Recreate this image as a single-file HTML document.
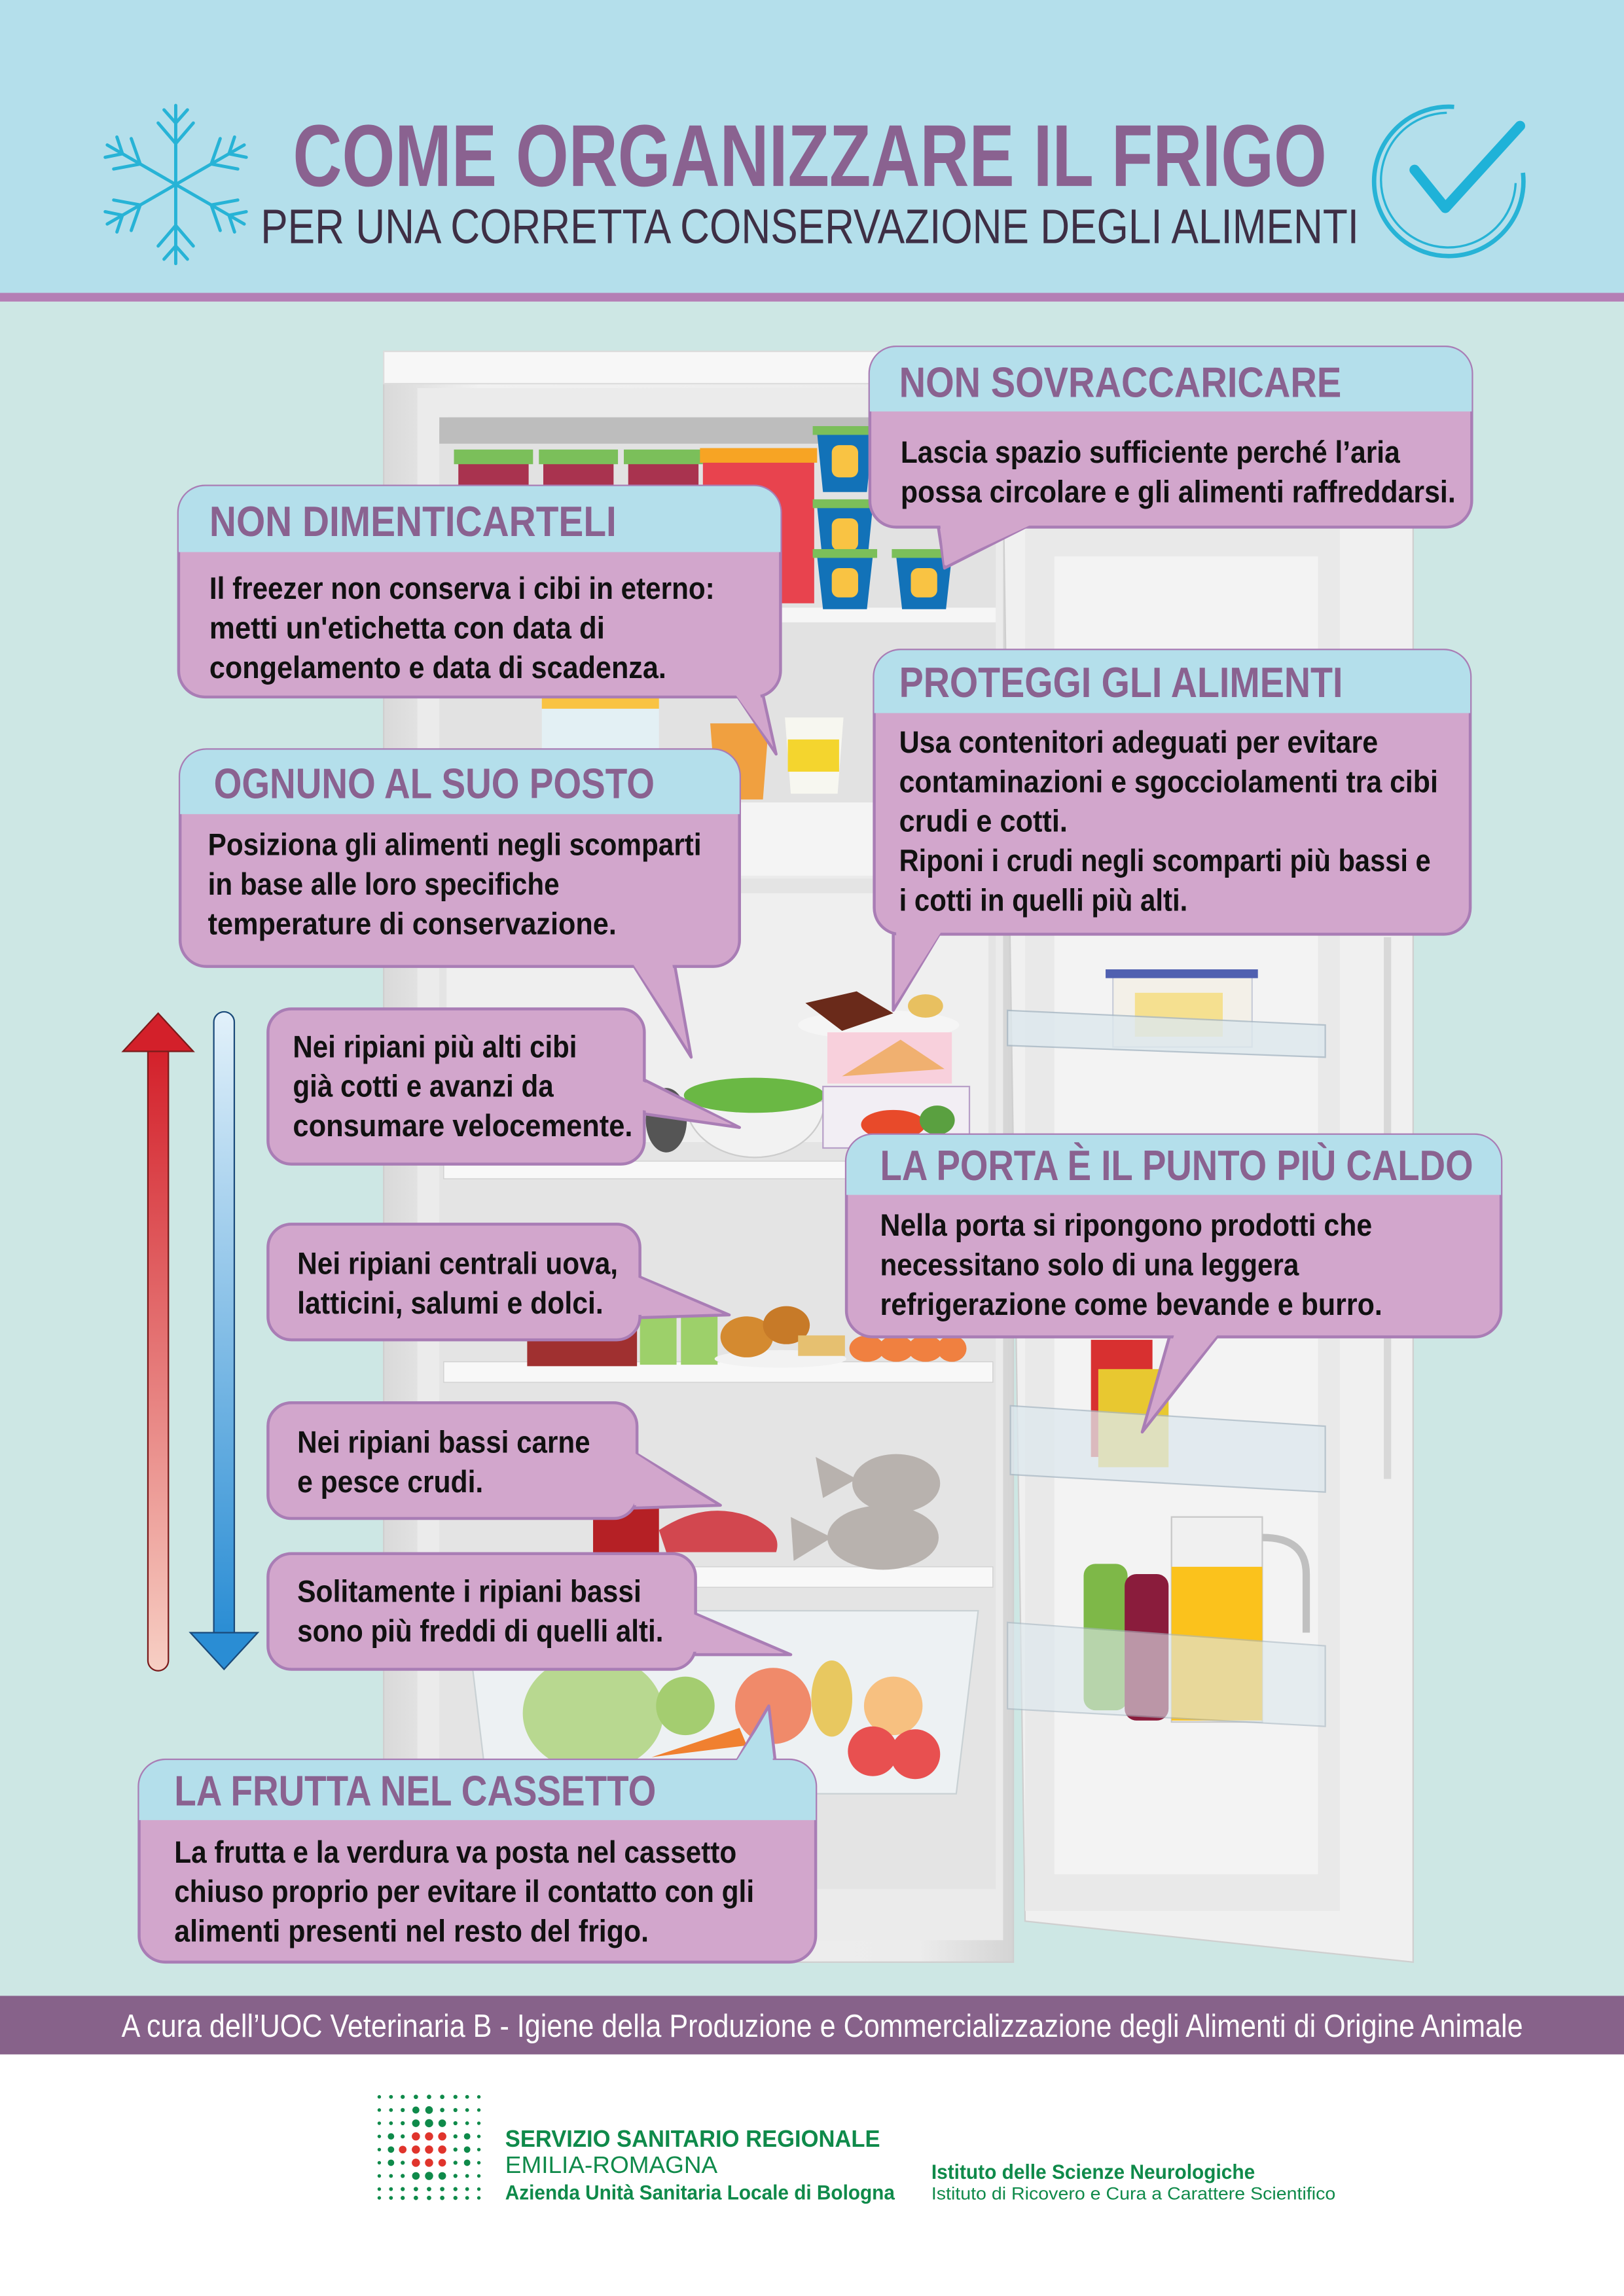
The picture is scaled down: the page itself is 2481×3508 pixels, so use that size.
<!DOCTYPE html>
<html><head><meta charset="utf-8"><style>
html,body{margin:0;padding:0;width:2481px;height:3508px;overflow:hidden;background:#fff}
svg{display:block}
text{font-family:"Liberation Sans Narrow","Liberation Sans",sans-serif;font-weight:bold}
.h{fill:#8a6290;font-size:29px}
.b{fill:#111;font-size:21px}
</style></head><body>
<svg width="2481" height="3508" viewBox="0 0 1109 1568" preserveAspectRatio="none" xmlns="http://www.w3.org/2000/svg">
<defs>
<linearGradient id="rg" x1="0" y1="0" x2="0" y2="1"><stop offset="0" stop-color="#d3202a"/><stop offset="1" stop-color="#f7cfc4"/></linearGradient>
<linearGradient id="bg" x1="0" y1="0" x2="0" y2="1"><stop offset="0" stop-color="#e2f1fa"/><stop offset="1" stop-color="#2a8dd4"/></linearGradient>
<linearGradient id="fr" x1="0" y1="0" x2="1" y2="0"><stop offset="0" stop-color="#d9d9d9"/><stop offset="0.15" stop-color="#f1f1f1"/><stop offset="0.85" stop-color="#ececec"/><stop offset="1" stop-color="#d4d4d4"/></linearGradient>
</defs>
<!-- backgrounds -->
<rect x="0" y="0" width="1109" height="1568" fill="#fff"/>
<rect x="0" y="0" width="1109" height="200" fill="#b4dfeb"/>
<rect x="0" y="200" width="1109" height="6" fill="#b47fb5"/>
<rect x="0" y="206" width="1109" height="1157" fill="#cde7e4"/>
<rect x="0" y="1363" width="1109" height="40" fill="#87628a"/>

<!-- snowflake -->
<g stroke="#27b3d6" stroke-width="2.2" fill="none" stroke-linecap="round">
<g id="arm"><line x1="120" y1="126" x2="120" y2="72"/><path d="M120 98 L108 84 M120 98 L132 84 M120 84 L112 75 M120 84 L128 75"/></g>
<use href="#arm" transform="rotate(60 120 126)"/><use href="#arm" transform="rotate(120 120 126)"/>
<use href="#arm" transform="rotate(180 120 126)"/><use href="#arm" transform="rotate(240 120 126)"/><use href="#arm" transform="rotate(300 120 126)"/>
</g>
<!-- check circle -->
<path d="M993 73 A51 51 0 1 0 1040 118" fill="none" stroke="#27b3d6" stroke-width="3"/>
<path d="M988 77 A46 46 0 1 0 1035 125" fill="none" stroke="#27b3d6" stroke-width="1.5"/>
<path d="M966 116 L987 142 L1038 86" fill="none" stroke="#1fb2d8" stroke-width="7" stroke-linecap="round" stroke-linejoin="round"/>

<text x="200" y="127" style="font-size:60px;fill:#8a6290" textLength="706" lengthAdjust="spacingAndGlyphs">COME ORGANIZZARE IL FRIGO</text>
<text x="178" y="166" style="font-size:33px;fill:#3e2f45;font-weight:normal" textLength="750" lengthAdjust="spacingAndGlyphs">PER UNA CORRETTA CONSERVAZIONE DEGLI ALIMENTI</text>

<!-- fridge body -->
<rect x="262" y="240" width="430" height="1100" fill="url(#fr)" stroke="#cfcfcf"/>
<rect x="262" y="240" width="430" height="22" fill="#f7f7f7" stroke="#ddd"/>
<rect x="285" y="265" width="400" height="1060" fill="#ebebeb"/>
<!-- freezer -->
<rect x="300" y="285" width="380" height="270" fill="#e2e2e2" rx="8"/>
<rect x="300" y="285" width="380" height="18" fill="#bdbdbd"/>
<rect x="340" y="415" width="340" height="10" fill="#f6f6f6"/>
<rect x="295" y="548" width="390" height="50" fill="#f4f4f4"/>
<rect x="300" y="600" width="380" height="690" fill="#e4e4e4"/>
<rect x="305" y="610" width="370" height="170" fill="#efefef"/>
<!-- freezer food -->
<g>
<rect x="313" y="312" width="48" height="100" fill="#a9334f"/><rect x="310" y="307" width="54" height="10" fill="#7bbf5a"/>
<rect x="371" y="312" width="48" height="100" fill="#a9334f"/><rect x="368" y="307" width="54" height="10" fill="#7bbf5a"/>
<rect x="429" y="312" width="48" height="100" fill="#a9334f"/><rect x="426" y="307" width="54" height="10" fill="#7bbf5a"/>
<rect x="480" y="312" width="76" height="100" fill="#e8434e"/><rect x="478" y="306" width="80" height="10" fill="#f7a424"/>
<g fill="#1272b8"><path d="M558 296 h38 l-4 40 h-30z"/><path d="M558 346 h38 l-4 40 h-30z"/><path d="M558 380 h38 l-4 36 h-30z"/><path d="M612 380 h38 l-4 36 h-30z"/></g>
<g fill="#f9c343"><rect x="568" y="304" width="18" height="22" rx="5"/><rect x="568" y="354" width="18" height="22" rx="5"/><rect x="568" y="388" width="18" height="20" rx="5"/><rect x="622" y="388" width="18" height="20" rx="5"/></g>
<g fill="#7bbf5a"><rect x="555" y="291" width="44" height="6"/><rect x="555" y="341" width="44" height="6"/><rect x="555" y="375" width="44" height="6"/><rect x="609" y="375" width="44" height="6"/></g>
</g>
<rect x="370" y="470" width="80" height="75" fill="#e3f0f4"/><rect x="370" y="470" width="80" height="14" fill="#f9c343"/>
<path d="M485 494 h40 l-4 52 h-32z" fill="#f0a040"/><path d="M536 490 h40 l-4 52 h-32z" fill="#f7f7f0"/><rect x="538" y="505" width="35" height="22" fill="#f4d52e"/>
<!-- fridge shelves -->
<rect x="303" y="793" width="375" height="12" fill="#f8f8f8" stroke="#d0d0d0" stroke-width="0.6"/>
<rect x="303" y="930" width="375" height="14" fill="#f8f8f8" stroke="#d0d0d0" stroke-width="0.6"/>
<rect x="303" y="1070" width="375" height="14" fill="#f8f8f8" stroke="#d0d0d0" stroke-width="0.6"/>
<!-- food -->
<path d="M468 752 h95 a47 38 0 0 1 -95 0z" fill="#f2f2f2" stroke="#ccc"/>
<ellipse cx="515" cy="748" rx="48" ry="12" fill="#6ab844"/>
<ellipse cx="455" cy="765" rx="14" ry="22" fill="#555"/>
<ellipse cx="600" cy="700" rx="55" ry="10" fill="#f5f5f5"/>
<path d="M550 685 l35 -8 l25 15 l-35 12z" fill="#6a2a1a"/><ellipse cx="632" cy="687" rx="12" ry="8" fill="#e8c060"/>
<rect x="565" y="705" width="85" height="35" fill="#f8d0dc"/><path d="M575 735 l40 -25 l30 20z" fill="#f0b070"/>
<rect x="562" y="742" width="100" height="42" fill="#f2eef4" stroke="#b8a0c8"/><ellipse cx="610" cy="768" rx="22" ry="10" fill="#e84a2a"/><ellipse cx="640" cy="765" rx="12" ry="10" fill="#5aa040"/>
<rect x="360" y="905" width="75" height="28" fill="#a03030"/>
<rect x="437" y="897" width="25" height="35" fill="#9dd06a"/><rect x="465" y="897" width="25" height="35" fill="#9dd06a"/>
<ellipse cx="533" cy="928" rx="45" ry="6" fill="#f2f2f2"/><ellipse cx="510" cy="913" rx="18" ry="14" fill="#d48a30"/><ellipse cx="537" cy="905" rx="16" ry="13" fill="#c77a28"/><rect x="545" y="912" width="32" height="14" fill="#e6c070"/>
<g fill="#f08040"><ellipse cx="592" cy="921" rx="12" ry="9"/><ellipse cx="612" cy="921" rx="12" ry="9"/><ellipse cx="632" cy="921" rx="12" ry="9"/><ellipse cx="650" cy="921" rx="10" ry="9"/></g>
<rect x="405" y="1030" width="45" height="35" fill="#b52025"/>
<path d="M450 1045 q30 -20 60 -10 q25 10 20 25 h-75z" fill="#d2474f"/>
<g fill="#b8b2ae"><ellipse cx="612" cy="1013" rx="30" ry="20"/><path d="M585 1010 l-28 -15 l5 28z"/><ellipse cx="603" cy="1050" rx="38" ry="22"/><path d="M568 1050 l-28 -14 l2 30z"/></g>
<!-- drawer -->
<path d="M318 1100 h350 l-15 125 h-320z" fill="#eef3f5" stroke="#c7cfd3" opacity="0.9"/>
<ellipse cx="405" cy="1170" rx="48" ry="40" fill="#b8d890"/>
<circle cx="468" cy="1165" r="20" fill="#a4cd70"/>
<circle cx="528" cy="1165" r="26" fill="#f08a6a"/>
<ellipse cx="568" cy="1160" rx="14" ry="26" fill="#e8c860"/>
<circle cx="610" cy="1165" r="20" fill="#f7c080"/>
<circle cx="596" cy="1196" r="17" fill="#e85050"/><circle cx="625" cy="1198" r="17" fill="#e85050"/>
<path d="M445 1200 l60 -20 l5 12z" fill="#f08030"/>

<!-- door -->
<path d="M685 332 L965 360 L965 1340 L700 1312 Z" fill="#f0f0f0" stroke="#cfcfcf"/>
<rect x="700" y="360" width="215" height="945" fill="#e9e9e9"/>
<rect x="720" y="380" width="180" height="900" fill="#f3f3f3"/>
<rect x="945" y="640" width="5" height="370" fill="#d8d8d8"/>
<rect x="760" y="665" width="95" height="50" fill="#f3f0e8" stroke="#c8ccd8"/><rect x="755" y="662" width="104" height="6" fill="#5060b0"/><rect x="775" y="678" width="60" height="30" fill="#f5e090"/>
<path d="M688 690 l217 10 v22 l-217 -8z" fill="#dde8ee" stroke="#a8b8c4" opacity="0.8"/>
<rect x="745" y="915" width="42" height="80" fill="#d83030"/><rect x="750" y="935" width="48" height="67" fill="#e8c830"/>
<path d="M690 960 l215 14 v45 l-215 -12z" fill="#dde8ee" stroke="#a8b8c4" opacity="0.75"/>
<rect x="740" y="1068" width="30" height="100" rx="8" fill="#7eb848"/><rect x="768" y="1075" width="30" height="100" rx="8" fill="#8a1c3c"/>
<path d="M800 1036 h62 v140 h-62z" fill="#f0f0f0" stroke="#c8c8c8"/><rect x="800" y="1070" width="62" height="105" fill="#fbc21c"/>
<path d="M862 1050 q30 0 30 25 v40" fill="none" stroke="#c0c0c0" stroke-width="5"/>
<path d="M688 1108 l217 16 v55 l-217 -12z" fill="#dde8ee" stroke="#a8b8c4" opacity="0.6"/>

<!-- arrows -->
<path d="M101 716 h14 v418 a7 7 0 0 1 -14 0z" fill="url(#rg)" stroke="#7a1a1a" stroke-width="1"/>
<path d="M84 718 L108 692 L132 718 Z" fill="#d3202a" stroke="#7a1a1a" stroke-width="1"/>
<path d="M146 698 a7 7 0 0 1 14 0 v418 h-14z" fill="url(#bg)" stroke="#1a4a7a" stroke-width="1"/>
<path d="M130 1115 L176 1115 L153 1140 Z" fill="#2a8dd4" stroke="#1a4a7a" stroke-width="1"/>

<!-- callouts -->
<g stroke="#a97db5" stroke-width="2" stroke-linejoin="round">
<!-- 1 -->
<path d="M640 355 L645 388 L710 355Z" fill="#d2a6cc"/>
<rect x="594" y="237" width="411" height="123" rx="18" fill="#d2a6cc"/>
<path d="M594 281 V255 a18 18 0 0 1 18 -18 H987 a18 18 0 0 1 18 18 V281Z" fill="#b4dfeb" stroke="none"/>
<!-- 2 -->
<path d="M500 470 L530 515 L520 470Z" fill="#d2a6cc"/>
<rect x="122" y="332" width="411" height="144" rx="18" fill="#d2a6cc"/>
<path d="M122 377 V350 a18 18 0 0 1 18 -18 H515 a18 18 0 0 1 18 18 V377Z" fill="#b4dfeb" stroke="none"/>
<!-- 3 -->
<path d="M610 632 L610 690 L645 632Z" fill="#d2a6cc"/>
<rect x="597" y="444" width="407" height="194" rx="18" fill="#d2a6cc"/>
<path d="M597 487 V462 a18 18 0 0 1 18 -18 H986 a18 18 0 0 1 18 18 V487Z" fill="#b4dfeb" stroke="none"/>
<!-- 4 -->
<path d="M430 655 L472 722 L460 655Z" fill="#d2a6cc"/>
<rect x="123" y="512" width="382" height="148" rx="18" fill="#d2a6cc"/>
<path d="M123 556 V530 a18 18 0 0 1 18 -18 H487 a18 18 0 0 1 18 18 V556Z" fill="#b4dfeb" stroke="none"/>
<!-- 5 -->
<path d="M435 735 L505 770 L435 760Z" fill="#d2a6cc"/>
<rect x="183" y="689" width="257" height="106" rx="16" fill="#d2a6cc"/>
<!-- 6 -->
<path d="M800 908 L780 978 L835 908Z" fill="#d2a6cc"/>
<rect x="578" y="775" width="447" height="138" rx="18" fill="#d2a6cc"/>
<path d="M578 816 V793 a18 18 0 0 1 18 -18 H1007 a18 18 0 0 1 18 18 V816Z" fill="#b4dfeb" stroke="none"/>
<!-- 7 -->
<path d="M432 870 L498 898 L432 900Z" fill="#d2a6cc"/>
<rect x="183" y="836" width="254" height="79" rx="16" fill="#d2a6cc"/>
<!-- 8 -->
<path d="M430 990 L492 1028 L430 1030Z" fill="#d2a6cc"/>
<rect x="183" y="958" width="252" height="79" rx="16" fill="#d2a6cc"/>
<!-- 9 -->
<path d="M470 1100 L540 1130 L470 1130Z" fill="#d2a6cc"/>
<rect x="183" y="1061" width="292" height="79" rx="16" fill="#d2a6cc"/>
<!-- 10 -->
<path d="M500 1208 L525 1165 L530 1208Z" fill="#b4dfeb"/>
<rect x="95" y="1202" width="462" height="138" rx="18" fill="#d2a6cc"/>
<path d="M95 1243 V1220 a18 18 0 0 1 18 -18 H539 a18 18 0 0 1 18 18 V1243Z" fill="#b4dfeb" stroke="none"/>
</g>
<!-- header separators cover (no strokes) -->
<g fill="#d2a6cc">
<path d="M642 358 L645 386 L705 358Z"/>
<path d="M502 474 L528 510 L519 474Z"/>
<path d="M612 636 L612 685 L643 636Z"/>
<path d="M432 658 L470 716 L459 658Z"/>
<path d="M438 738 L500 768 L438 758Z"/>
<path d="M802 911 L784 970 L832 911Z"/>
<path d="M435 872 L493 897 L435 898Z"/>
<path d="M433 992 L487 1027 L433 1028Z"/>
<path d="M473 1102 L534 1129 L473 1128Z"/>
</g>
<path d="M502 1204 L524 1170 L528 1204Z" fill="#b4dfeb"/>

<!-- callout texts -->
<text class="h" x="614" y="271" textLength="302" lengthAdjust="spacingAndGlyphs">NON SOVRACCARICARE</text>
<text class="b" x="615" y="316" textLength="341" lengthAdjust="spacingAndGlyphs">Lascia spazio sufficiente perché l’aria</text>
<text class="b" x="615" y="343" textLength="379" lengthAdjust="spacingAndGlyphs">possa circolare e gli alimenti raffreddarsi.</text>

<text class="h" x="143" y="366" textLength="278" lengthAdjust="spacingAndGlyphs">NON DIMENTICARTELI</text>
<text class="b" x="143" y="409" textLength="345" lengthAdjust="spacingAndGlyphs">Il freezer non conserva i cibi in eterno:</text>
<text class="b" x="143" y="436" textLength="270" lengthAdjust="spacingAndGlyphs">metti un'etichetta con data di</text>
<text class="b" x="143" y="463" textLength="312" lengthAdjust="spacingAndGlyphs">congelamento e data di scadenza.</text>

<text class="h" x="614" y="476" textLength="303" lengthAdjust="spacingAndGlyphs">PROTEGGI GLI ALIMENTI</text>
<text class="b" x="614" y="514" textLength="327" lengthAdjust="spacingAndGlyphs">Usa contenitori adeguati per evitare</text>
<text class="b" x="614" y="541" textLength="368" lengthAdjust="spacingAndGlyphs">contaminazioni e sgocciolamenti tra cibi</text>
<text class="b" x="614" y="568" textLength="115" lengthAdjust="spacingAndGlyphs">crudi e cotti.</text>
<text class="b" x="614" y="595" textLength="363" lengthAdjust="spacingAndGlyphs">Riponi i crudi negli scomparti più bassi e</text>
<text class="b" x="614" y="622" textLength="197" lengthAdjust="spacingAndGlyphs">i cotti in quelli più alti.</text>

<text class="h" x="146" y="545" textLength="301" lengthAdjust="spacingAndGlyphs">OGNUNO AL SUO POSTO</text>
<text class="b" x="142" y="584" textLength="337" lengthAdjust="spacingAndGlyphs">Posiziona gli alimenti negli scomparti</text>
<text class="b" x="142" y="611" textLength="240" lengthAdjust="spacingAndGlyphs">in base alle loro specifiche</text>
<text class="b" x="142" y="638" textLength="279" lengthAdjust="spacingAndGlyphs">temperature di conservazione.</text>

<text class="b" x="200" y="722" textLength="194" lengthAdjust="spacingAndGlyphs">Nei ripiani più alti cibi</text>
<text class="b" x="200" y="749" textLength="178" lengthAdjust="spacingAndGlyphs">già cotti e avanzi da</text>
<text class="b" x="200" y="776" textLength="232" lengthAdjust="spacingAndGlyphs">consumare velocemente.</text>

<text class="h" x="601" y="806" textLength="405" lengthAdjust="spacingAndGlyphs">LA PORTA È IL PUNTO PIÙ CALDO</text>
<text class="b" x="601" y="844" textLength="336" lengthAdjust="spacingAndGlyphs">Nella porta si ripongono prodotti che</text>
<text class="b" x="601" y="871" textLength="286" lengthAdjust="spacingAndGlyphs">necessitano solo di una leggera</text>
<text class="b" x="601" y="898" textLength="343" lengthAdjust="spacingAndGlyphs">refrigerazione come bevande e burro.</text>

<text class="b" x="203" y="870" textLength="219" lengthAdjust="spacingAndGlyphs">Nei ripiani centrali uova,</text>
<text class="b" x="203" y="897" textLength="209" lengthAdjust="spacingAndGlyphs">latticini, salumi e dolci.</text>

<text class="b" x="203" y="992" textLength="200" lengthAdjust="spacingAndGlyphs">Nei ripiani bassi carne</text>
<text class="b" x="203" y="1019" textLength="127" lengthAdjust="spacingAndGlyphs">e pesce crudi.</text>

<text class="b" x="203" y="1094" textLength="235" lengthAdjust="spacingAndGlyphs">Solitamente i ripiani bassi</text>
<text class="b" x="203" y="1121" textLength="250" lengthAdjust="spacingAndGlyphs">sono più freddi di quelli alti.</text>

<text class="h" x="119" y="1233" textLength="329" lengthAdjust="spacingAndGlyphs">LA FRUTTA NEL CASSETTO</text>
<text class="b" x="119" y="1272" textLength="384" lengthAdjust="spacingAndGlyphs">La frutta e la verdura va posta nel cassetto</text>
<text class="b" x="119" y="1299" textLength="396" lengthAdjust="spacingAndGlyphs">chiuso proprio per evitare il contatto con gli</text>
<text class="b" x="119" y="1326" textLength="324" lengthAdjust="spacingAndGlyphs">alimenti presenti nel resto del frigo.</text>

<!-- footer -->
<text x="83" y="1391" style="font-size:22px;fill:#fff;font-weight:normal" textLength="957" lengthAdjust="spacingAndGlyphs">A cura dell’UOC Veterinaria B - Igiene della Produzione e Commercializzazione degli Alimenti di Origine Animale</text>
<g fill="#0f8a4a">
<g id="row"><circle cx="259" cy="1432" r="1.2"/><circle cx="267" cy="1432" r="1.3"/><circle cx="275" cy="1432" r="1.4"/><circle cx="284" cy="1432" r="1.5"/><circle cx="293" cy="1432" r="1.5"/><circle cx="302" cy="1432" r="1.5"/><circle cx="311" cy="1432" r="1.4"/><circle cx="319" cy="1432" r="1.3"/><circle cx="327" cy="1432" r="1.2"/></g>
<use href="#row" y="9"/><use href="#row" y="18"/><use href="#row" y="27"/><use href="#row" y="36"/><use href="#row" y="45"/><use href="#row" y="54"/><use href="#row" y="63"/><use href="#row" y="69"/>
<circle cx="284" cy="1441" r="2.4"/><circle cx="293" cy="1441" r="2.6"/><circle cx="284" cy="1450" r="2.6"/><circle cx="293" cy="1450" r="2.8"/><circle cx="302" cy="1450" r="2.6"/>
<circle cx="284" cy="1486" r="2.6"/><circle cx="293" cy="1486" r="2.8"/><circle cx="302" cy="1486" r="2.6"/>
<circle cx="267" cy="1459" r="2.2"/><circle cx="319" cy="1459" r="2.2"/><circle cx="267" cy="1468" r="2.2"/><circle cx="319" cy="1468" r="2.2"/><circle cx="267" cy="1477" r="2.2"/><circle cx="319" cy="1477" r="2.2"/>
</g>
<g fill="#e0342c"><circle cx="284" cy="1459" r="2.8"/><circle cx="293" cy="1459" r="2.8"/><circle cx="302" cy="1459" r="2.8"/><circle cx="275" cy="1468" r="2.6"/><circle cx="284" cy="1468" r="2.8"/><circle cx="293" cy="1468" r="2.8"/><circle cx="302" cy="1468" r="2.8"/><circle cx="284" cy="1477" r="2.8"/><circle cx="293" cy="1477" r="2.8"/><circle cx="302" cy="1477" r="2.6"/></g>
<g style="fill:#0f8a4a">
<text x="345" y="1466" style="font-size:16px" textLength="256" lengthAdjust="spacingAndGlyphs">SERVIZIO SANITARIO REGIONALE</text>
<text x="345" y="1484" style="font-size:16px;font-weight:normal" textLength="145" lengthAdjust="spacingAndGlyphs">EMILIA-ROMAGNA</text>
<text x="345" y="1502" style="font-size:14px" textLength="266" lengthAdjust="spacingAndGlyphs">Azienda Unità Sanitaria Locale di Bologna</text>
<text x="636" y="1488" style="font-size:14px" textLength="221" lengthAdjust="spacingAndGlyphs">Istituto delle Scienze Neurologiche</text>
<text x="636" y="1502" style="font-size:12px;font-weight:normal" textLength="276" lengthAdjust="spacingAndGlyphs">Istituto di Ricovero e Cura a Carattere Scientifico</text>
</g>
</svg>
</body></html>
